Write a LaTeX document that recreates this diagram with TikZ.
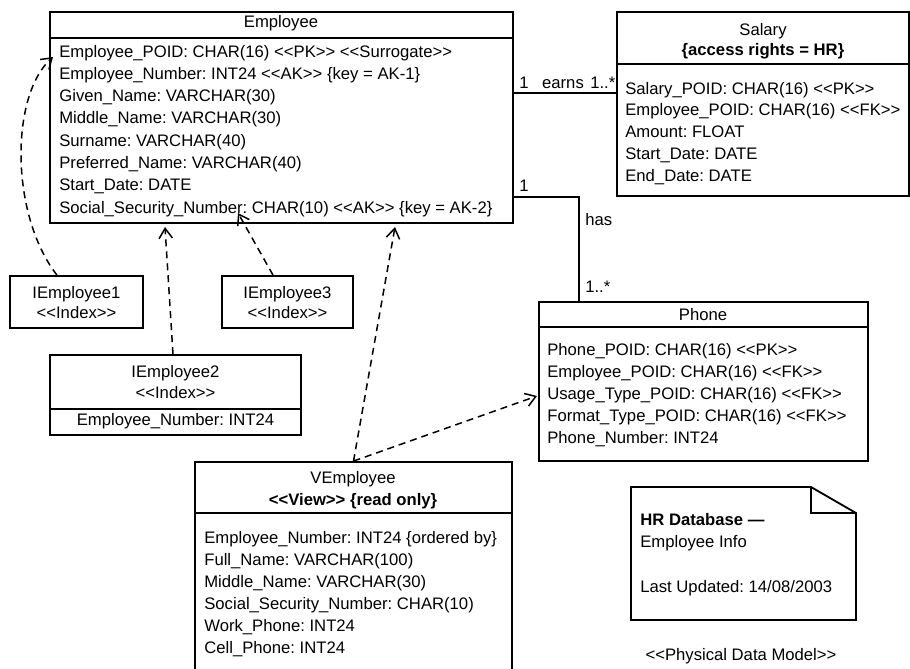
\documentclass[tikz,border=0pt]{standalone}
\usepackage{fontspec}
\setmainfont{Liberation Sans}
\usetikzlibrary{arrows.meta,fit}
\frenchspacing
\newcommand\sto[1]{<\kern0pt<#1>\kern0pt>}
\tikzset{
  box/.style={draw, line width=1.1pt, inner sep=0pt},
  row/.style={anchor=base west, inner sep=0pt},
  ttl/.style={anchor=base, inner sep=0pt},
  dep/.style={line width=0.9pt, dash pattern=on 4.2pt off 3pt, -{Straight Barb[length=6pt,width=8pt]}},
  assoc/.style={line width=0.9pt}
}
\begin{document}
\begin{tikzpicture}[x=0.6pt, y=-0.6pt, font=\fontsize{10}{12}\selectfont]
  \useasboundingbox (0,0) rectangle (910,668);
  \clip (0,0) rectangle (910,668);

  % tables
  \node[box, fit={(50,12) (513,223)}] (emp) {};
  \draw[line width=1.1pt] (50,38) -- (513,38);
  \node[ttl] at (281,27) {Employee};
  \foreach \t [count=\i] in {Employee\_POID: CHAR(16) \sto{PK} \sto{Surrogate},
      Employee\_Number: INT24 \sto{AK} \{key = AK-1\},
      Given\_Name: VARCHAR(30), Middle\_Name: VARCHAR(30), Surname: VARCHAR(40),
      Preferred\_Name: VARCHAR(40), Start\_Date: DATE,
      Social\_Security\_Number: CHAR(10) \sto{AK} \{key = AK-2\}}
    \node[row] (er\i) at (59,34.7+22.3*\i) {\t};

  \node[box, fit={(617,12) (909,196)}] (sal) {};
  \draw[line width=1.1pt] (617,64) -- (909,64);
  \node[ttl] at (763,35) {Salary};
  \node[ttl] at (763,55) {\bfseries\{access rights = HR\}};
  \foreach \t [count=\i] in {Salary\_POID: CHAR(16) \sto{PK}, Employee\_POID: CHAR(16) \sto{FK},
      Amount: FLOAT, Start\_Date: DATE, End\_Date: DATE}
    \node[row] (sr\i) at (625,72.2+21.8*\i) {\t};

  \node[box, fit={(539,302) (868,461)}] (pho) {};
  \draw[line width=1.1pt] (539,327) -- (868,327);
  \node[ttl] at (703,320) {Phone};
  \foreach \t [count=\i] in {Phone\_POID: CHAR(16) \sto{PK}, Employee\_POID: CHAR(16) \sto{FK},
      Usage\_Type\_POID: CHAR(16) \sto{FK}, Format\_Type\_POID: CHAR(16) \sto{FK},
      Phone\_Number: INT24}
    \node[row] (pr\i) at (547,332.8+22.2*\i) {\t};

  \node[box, fit={(195,462) (512,700)}] (vemp) {};
  \draw[line width=1.1pt] (195,513) -- (512,513);
  \node[ttl] at (353,483) {VEmployee};
  \node[ttl] at (353,505) {\bfseries\sto{View} \{read only\}};
  \foreach \t [count=\i] in {Employee\_Number: INT24 \{ordered by\}, Full\_Name: VARCHAR(100),
      Middle\_Name: VARCHAR(30), Social\_Security\_Number: CHAR(10),
      Work\_Phone: INT24, Cell\_Phone: INT24}
    \node[row] (vr\i) at (204,521+22*\i) {\t};

  % indexes
  \node[box, fit={(10,276) (143,328)}] (ie1) {};
  \node[ttl] at (76.5,298) {IEmployee1};
  \node[ttl] at (76.5,318) {\sto{Index}};
  \node[box, fit={(222,276) (353,328)}] (ie3) {};
  \node[ttl] at (287.5,298) {IEmployee3};
  \node[ttl] at (287.5,318) {\sto{Index}};
  \node[box, fit={(50,355) (301,435)}] (ie2) {};
  \draw[line width=1.1pt] (50,409) -- (301,409);
  \node[ttl] at (175.5,377) {IEmployee2};
  \node[ttl] at (175.5,398) {\sto{Index}};
  \node[ttl] at (175.5,425) {Employee\_Number: INT24};

  % note
  \draw[line width=1.1pt] (631,487) -- (811,487) -- (856,513) -- (856,620) -- (631,620) -- cycle;
  \draw[line width=1.1pt] (811,487) -- (811,513) -- (856,513);
  \node[row] (n1) at (640,525) {\bfseries HR Database —};
  \node[row] (n2) at (640,547) {Employee Info};
  \node[row] (n3) at (640,592) {Last Updated: 14/08/2003};
  \node[ttl] (pdm) at (741,660) {\sto{Physical Data Model}};

  % associations
  \coordinate (ey) at (0,93);
  \coordinate (hy) at (579,197);
  \draw[assoc] (emp.east |- ey) -- (sal.west |- ey);
  \node[row] at (519,88) {1};
  \node[ttl] at (563,88) {earns};
  \node[row] at (590,88) {1..*};
  \draw[assoc] (emp.east |- hy) -- (hy) -- (hy |- pho.north);
  \node[row] at (519,191) {1};
  \node[row] at (585,225) {has};
  \node[row] at (585,292) {1..*};

  % dependencies
  \coordinate (t1) at (53,57);
  \coordinate (t2) at (165,227);
  \coordinate (t3) at (238,213);
  \coordinate (t4) at (395,227);
  \coordinate (t5) at (537,396);
  \draw[dep] ([xshift=-11.7pt]ie1.north) .. controls (10,215) and (10,95) .. (t1);
  \draw[dep] ([xshift=-1.5pt]ie2.north) -- (t2);
  \draw[dep] ([xshift=-8.7pt]ie3.north) -- (t3);
  \draw[dep] (vemp.north) -- (t4);
  \draw[dep] (vemp.north) -- (t5);
\end{tikzpicture}
\end{document}
